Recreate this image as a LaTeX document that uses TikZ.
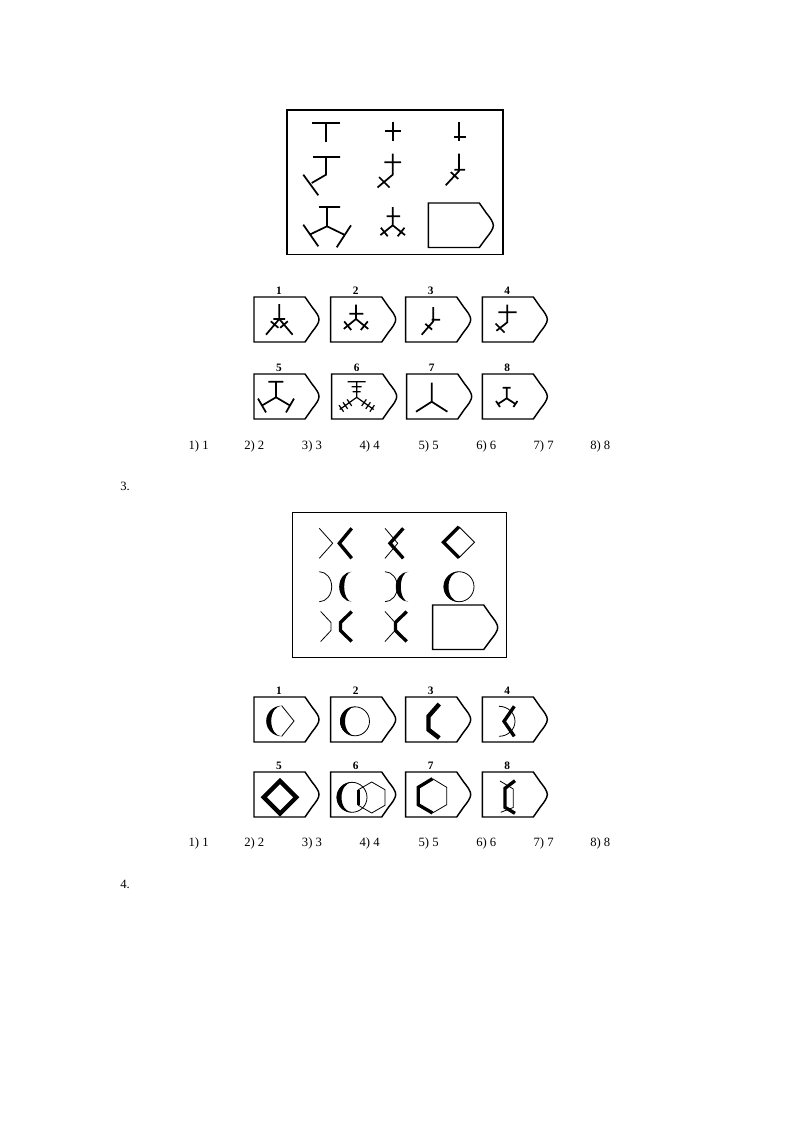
\documentclass[tikz,border=0pt]{standalone}
\usepackage{fontspec}
\setmainfont{Liberation Serif}
\newcommand{\TagShape}[3]{%
  \draw[frame,shift={(#1,#2)}] (0,0) -- (51,0) -- (58,10) .. controls (62,15) and (65,19) .. (65,22.5) .. controls (65,26) and (62,30) .. (58,35) -- (51,45) -- (0,45) -- cycle;
  \node[num] (lab#3#1) at (#1+25,#2-6) {#3};}
\newcommand{\HoleShape}[2]{%
  \draw[frame,shift={(#1,#2)}] (0,0) -- (51,0) -- (58,10) .. controls (62,15) and (65,19) .. (65,22.5) .. controls (65,26) and (62,30) .. (58,35) -- (51,44.5) -- (0,44.5) -- cycle;}
% thick crescent on the left: cx, cy, r, outer a, inner a
\newcommand{\LCres}[5]{%
  \fill (#1,#2-#3) .. controls (#1-0.552*#4,#2-#3) and (#1-#4,#2-0.552*#3) .. (#1-#4,#2) .. controls (#1-#4,#2+0.552*#3) and (#1-0.552*#4,#2+#3) .. (#1,#2+#3) .. controls (#1-0.552*#5,#2+#3) and (#1-#5,#2+0.552*#3) .. (#1-#5,#2) .. controls (#1-#5,#2-0.552*#3) and (#1-0.552*#5,#2-#3) .. cycle;}
% thin half ellipse bulging right: cx, cy, r, a
\newcommand{\RHalf}[4]{%
  \draw[thn] (#1,#2-#3) .. controls (#1+0.552*#4,#2-#3) and (#1+#4,#2-0.552*#3) .. (#1+#4,#2) .. controls (#1+#4,#2+0.552*#3) and (#1+0.552*#4,#2+#3) .. (#1,#2+#3);}
\begin{document}
\begin{tikzpicture}[x=0.75pt,y=-0.75pt,
  frame/.style={line width=1.1pt},
  ln/.style={line width=1.3pt},
  lnf/.style={line width=0.9pt},
  thn/.style={line width=0.6pt},
  thk/.style={line width=2.5pt},
  thkk/.style={line width=3.3pt},
  num/.style={font=\fontsize{8.5}{9}\selectfont\bfseries, inner sep=0},
  ans/.style={font=\fontsize{9.5}{11}\selectfont, anchor=base west, inner sep=0},
]
\useasboundingbox (0,0) rectangle (800,1132);

% ================= problem 2 =================
\draw[frame] (287,110) rectangle (503,254.5);
% row 1
\draw[ln] (312,123) -- (340,123) (326,123) -- (326,142);
\draw[ln] (385,131.3) -- (401,131.3) (392.7,122) -- (392.7,141.3);
\draw[ln] (454.3,137) -- (465.7,137) (459,122) -- (459,141);
% row 2
\draw[ln] (313,157) -- (340,157) (326,157) -- (326,174.7) -- (311.7,183) (303.3,174.7) -- (318.3,195.3);
\draw[ln] (384.3,162.3) -- (401,162.3) (392.7,153.7) -- (392.7,174.7) -- (377.5,187.5) (379,177) -- (389.5,187.5);
\draw[ln] (454.3,169.7) -- (465,169.7) (459,153.7) -- (459,171) -- (445.7,185.3) (450.8,172.1) -- (458.2,178.9);
% row 3
\draw[ln] (319,207) -- (340,207) (327,207) -- (327,226.3) (311,234) -- (327,226.3) -- (344.3,234.7)
  (303.3,224.7) -- (318.3,246.3) (351,225.3) -- (336.7,247.3);
\draw[ln] (386.7,216.3) -- (400,216.3) (392.7,207) -- (392.7,225.3) (380.4,235.1) -- (392.7,225.3) -- (405,235.1)
  (380.9,227.7) -- (387.7,236.3) (404.5,227.7) -- (397.7,236.3);
\HoleShape{428.3}{203}

% options
\TagShape{254}{297}{1}
\draw[ln] (279.3,304) -- (279.3,319) (273.3,319) -- (285,319) (266,334.7) -- (279.3,319) -- (292.6,334.7)
  (270.8,321.3) -- (278.4,327.8) (287.8,321.3) -- (280.2,327.8);
\TagShape{330.7}{297}{2}
\draw[ln] (356,304.7) -- (356,319) (349.3,313.7) -- (363.3,313.7) (343.8,328.9) -- (356,319) -- (368.2,328.9)
  (344.2,321.4) -- (351.2,330) (367.8,321.4) -- (360.8,330);
\TagShape{405.7}{297}{3}
\draw[ln] (433.3,307) -- (433.3,321.3) -- (421.7,334.7) (431.7,319.7) -- (440,319.7) (425.3,323.8) -- (432.1,329.6);
\TagShape{482.3}{297}{4}
\draw[ln] (498.3,312.3) -- (516.7,312.3) (507.3,304.7) -- (507.3,322.3) -- (496.4,330.8) (495.5,323.5) -- (504.5,332.5);

\TagShape{254}{374}{5}
\draw[ln] (268.3,381.7) -- (283.3,381.7) (276,381.7) -- (276,397.3) (262,405.5) -- (276,397.3) -- (290,405.5)
  (258,398.6) -- (266,412.4) (294,398.6) -- (286,412.4);
\TagShape{331.7}{374}{6}
\draw[lnf] (347.7,381.7) -- (365.7,381.7) (351.7,386.7) -- (361.7,386.7) (352.7,391.7) -- (360.7,391.7)
  (356.7,381.7) -- (356.7,397.3) (339.7,409.5) -- (356.7,397.3) -- (373.7,409.5)
  (347.1,399.4) -- (351.7,405.9) (343.0,402.3) -- (347.6,408.8) (339.0,405.2) -- (343.6,411.7)
  (366.3,399.4) -- (361.7,405.9) (370.4,402.3) -- (365.8,408.8) (374.4,405.2) -- (369.8,411.7);
\TagShape{406.7}{374}{7}
\draw[ln] (431.7,382.7) -- (431.7,401.7) (416,411.7) -- (431.7,401.7) -- (447.4,411.7);
\TagShape{482.3}{374}{8}
\draw[ln] (502.7,387.7) -- (510.7,387.7) (506.7,387.7) -- (506.7,398.3) (498,404) -- (506.7,398.3) -- (515.4,404)
  (496,401) -- (500,407) (517.4,401) -- (513.4,407);

\node[ans] (a1) at (188.3,449) {1) 1};
\node[ans] (a2) at (244,449) {2) 2};
\node[ans] (a3) at (301.7,449) {3) 3};
\node[ans] (a4) at (359.3,449) {4) 4};
\node[ans] (a5) at (418.3,449) {5) 5};
\node[ans] (a6) at (476,449) {6) 6};
\node[ans] (a7) at (533.3,449) {7) 7};
\node[ans] (a8) at (590,449) {8) 8};

\node[ans] (q3) at (120,490) {3.};

% ================= problem 3 =================
\draw[frame] (292.5,512.5) rectangle (506.5,657.5);
% row 1
\draw[thn] (319.3,528.3) -- (332.7,543.3) -- (319.3,558.3);
\draw[thk] (351.7,528.3) -- (339.3,543.3) -- (351.7,558.3);
\draw[thn] (385,528.3) -- (397.7,543.3) -- (385,558.3);
\draw[thk] (403.3,528.3) -- (390,543.3) -- (403.3,558.3);
\draw[thn] (459,526.8) -- (474.5,542.3) -- (459,557.8);
\draw[thk] (459,526.8) -- (443.5,542.3) -- (459,557.8);
% row 2
\RHalf{319.3}{586.7}{15}{12.4}
\LCres{351.7}{586.7}{15}{12.5}{7.5}
\RHalf{385}{586.7}{15}{12.4}
\LCres{408.3}{586.7}{15}{12.5}{7.5}
\draw[thn] (459,586.7) circle[radius=15];
\LCres{459}{586.7}{15}{15.4}{10.5}
% row 3
\draw[thn] (320.7,611.5) -- (331,622.5) -- (331,630.5) -- (320.7,641.5);
\draw[thk] (351.7,611.5) -- (340.5,622.5) -- (340.5,630.5) -- (351.7,641.5);
\draw[thn] (385,611.5) -- (395,622.5) -- (395,630.5) -- (385,641.5);
\draw[thk] (406.7,611.5) -- (395.5,622.5) -- (395.5,630.5) -- (406.7,641.5);
\HoleShape{432.7}{605}

% options
\TagShape{254}{697}{1}
\draw[thn] (281.7,705.7) -- (294,721) -- (281.7,736.3);
\LCres{281.7}{721}{15.3}{15.5}{10.5}
\TagShape{330.7}{697}{2}
\draw[thn] (355,721.3) circle[radius=14.5];
\LCres{355}{721.3}{14.5}{15}{10}
\TagShape{405.7}{697}{3}
\draw[thkk] (439.3,704) -- (428.5,716.3) -- (428.5,729.7) -- (439.3,738);
\TagShape{482.3}{697}{4}
\RHalf{499}{721.3}{15}{16}
\draw[thk] (514.3,706.3) -- (504,721.3) -- (514.3,736.3);

\TagShape{254}{772}{5}
\draw[thkk] (280,781) -- (296.3,797.3) -- (280,813.6) -- (263.7,797.3) -- cycle;
\TagShape{330.7}{772}{6}
\draw[thn] (352,797.3) circle[radius=15];
\LCres{352}{797.3}{15}{15.4}{10.5}
\draw[thn] (371.7,782) -- (385,789.7) -- (385,805.3) -- (371.7,813) -- (358.3,805.3) -- (358.3,789.7) -- cycle;
\draw[thk] (358.3,789.7) -- (358.3,805.3);
\TagShape{405.7}{772}{7}
\draw[thn] (432.5,778.7) -- (446.7,787.3) -- (446.7,804.7) -- (432.5,813);
\draw[thk] (432.5,778.7) -- (418.3,787.3) -- (418.3,804.7) -- (432.5,813);
\TagShape{482.3}{772}{8}
\draw[thn] (500,781) -- (513.3,789) -- (513.3,807.5) -- (500.7,812.3);
\draw[thk] (515,780.7) -- (505,788.3) -- (505,807.3) -- (515,813.3);

\node[ans] (b1) at (188.3,846) {1) 1};
\node[ans] (b2) at (244,846) {2) 2};
\node[ans] (b3) at (301.7,846) {3) 3};
\node[ans] (b4) at (359.3,846) {4) 4};
\node[ans] (b5) at (418.3,846) {5) 5};
\node[ans] (b6) at (476,846) {6) 6};
\node[ans] (b7) at (533.3,846) {7) 7};
\node[ans] (b8) at (590,846) {8) 8};

\node[ans] (q4) at (120,888) {4.};
\end{tikzpicture}
\end{document}
